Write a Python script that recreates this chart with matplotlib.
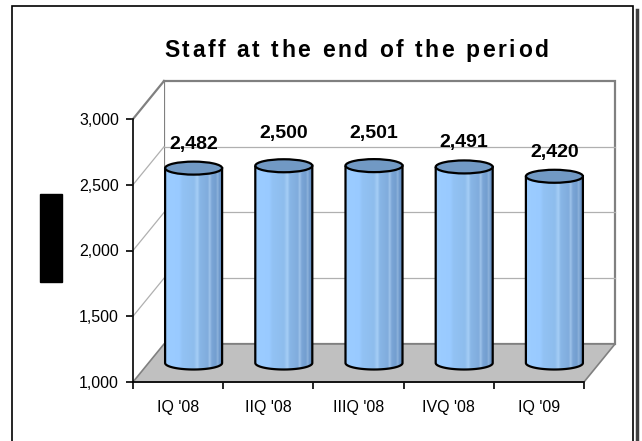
import numpy as np
import matplotlib.pyplot as plt
from matplotlib.patches import Rectangle, Polygon, Ellipse, PathPatch
from matplotlib.path import Path
from matplotlib.ticker import FuncFormatter
from matplotlib.colors import LinearSegmentedColormap
from matplotlib.font_manager import FontProperties

plt.rcParams['font.family'] = ['Liberation Sans', 'DejaVu Sans']

# data
quarters = ["IQ '08", "IIQ '08", "IIIQ '08", "IVQ '08", "IQ '09"]
staff = [2482, 2500, 2501, 2491, 2420]
y_ticks = [1000, 1500, 2000, 2500, 3000]
title = "Staff at the end of the period"

# small vertical nudges of the value labels (pixels), as in the original
label_nudge = [0, 8, 8, 0, 0]

W, H = 642, 441
fig = plt.figure(figsize=(W / 100, H / 100), dpi=100)
ax = fig.add_axes([133 / W, 59 / H, 451 / W, 263 / H])
n = len(quarters)
ymin, ymax = y_ticks[0], y_ticks[-1]
ax.set_xlim(0, n)
ax.set_ylim(ymin, ymax)
ax.patch.set_visible(False)

# depth of the 3d box: pixels -> data units
DX, DY = 31, 38
ox = DX / 451 * n
oy = DY / 263 * (ymax - ymin)

# back wall, side wall, floor
ax.add_patch(Rectangle((ox, ymin + oy), n, ymax - ymin, facecolor='white',
                       edgecolor='#808080', lw=1.6, zorder=1, clip_on=False))
ax.add_patch(Polygon([(0, ymin), (0, ymax), (ox, ymax + oy), (ox, ymin + oy)],
                     facecolor='white', edgecolor='none', zorder=1, clip_on=False))
for y in y_ticks[1:-1]:
    ax.plot([ox, n + ox], [y + oy, y + oy], color='#b0b0b0', lw=0.9, zorder=2, clip_on=False)
    ax.plot([0, ox], [y, y + oy], color='#b0b0b0', lw=0.9, zorder=2, clip_on=False)
ax.plot([0, ox], [ymax, ymax + oy], color='#808080', lw=1.6, zorder=2, clip_on=False)
ax.add_patch(Polygon([(0, ymin), (n, ymin), (n + ox, ymin + oy), (ox, ymin + oy)],
                     facecolor='#c0c0c0', edgecolor='#808080', lw=1.2, zorder=3, clip_on=False))

# cylinders
cyl_cmap = LinearSegmentedColormap.from_list('cyl', [
    (0.0, '#9ccdff'), (0.25, '#99caff'), (0.3, '#92c2f4'), (0.5, '#8ebded'),
    (0.56, '#a6cef6'), (0.6, '#88b6e6'), (0.74, '#80acdd'), (0.77, '#9fc4ea'),
    (0.81, '#7aa5d6'), (0.88, '#739ecf'), (0.91, '#90b5dd'), (0.94, '#6d98cb'),
    (1.0, '#6691c4')])
grad = np.linspace(0, 1, 256).reshape(1, -1)
w = 0.632
eh = 13 / 263 * (ymax - ymin)
t = np.linspace(np.pi, 2 * np.pi, 60)

for i, v in enumerate(staff):
    cx = i + 0.5 + ox / 2
    base = ymin + oy / 2
    top = v + oy / 2
    pts = [(cx - w / 2, top), (cx - w / 2, base)]
    pts += list(zip(cx + w / 2 * np.cos(t), base + eh / 2 * np.sin(t)))
    pts += [(cx + w / 2, top), (cx - w / 2, top)]
    body = PathPatch(Path(pts), facecolor='none', edgecolor='black', lw=1.6,
                     zorder=6, clip_on=False)
    ax.add_patch(body)
    im = ax.imshow(grad, extent=[cx - w / 2, cx + w / 2, base - eh / 2, top],
                   aspect='auto', cmap=cyl_cmap, interpolation='bilinear', zorder=5)
    im.set_clip_path(body)
    ax.add_patch(Ellipse((cx, top), w, eh, facecolor='#7199c4', edgecolor='black',
                         lw=1.6, zorder=7, clip_on=False))
    ax.annotate(f"{v:,}", xy=(cx, top), xytext=(0, (24 + label_nudge[i]) * 0.72),
                textcoords='offset points', ha='center', va='center',
                fontsize=14, fontweight='bold', zorder=8, annotation_clip=False)

ax.set_xlim(0, n)
ax.set_ylim(ymin, ymax)

# axes
for s in ['top', 'right']:
    ax.spines[s].set_visible(False)
for s in ['left', 'bottom']:
    ax.spines[s].set_linewidth(1.2)
    ax.spines[s].set_zorder(10)
ax.set_yticks(y_ticks)
ax.yaxis.set_major_formatter(FuncFormatter(lambda v, p: f"{v:,.0f}"))
ax.set_xticks(range(n + 1))
ax.set_xticklabels([])
ax.set_xticks([i + 0.5 for i in range(n)], minor=True)
ax.set_xticklabels(quarters, minor=True)
ax.tick_params(axis='both', which='major', direction='out', length=5, width=1.2,
               labelsize=11.5, pad=5)
ax.tick_params(axis='x', which='minor', length=0, labelsize=11.5, pad=13)

# title with wide letter spacing
renderer = fig.canvas.get_renderer()
fp = FontProperties(family=['Liberation Sans', 'DejaVu Sans'], weight='bold', size=16.5)
def text_w(s):
    return renderer.get_text_width_height_descent(s, fp, ismath=False)[0]
space_w = text_w("a a") - text_w("aa")
widths = [space_w if ch == ' ' else text_w(ch) for ch in title]
target = 384
gap = (target - sum(widths)) / (len(title) - 1)
x = 356 - target / 2
for ch, cw in zip(title, widths):
    fig.text(x / W, (H - 57) / H, ch, fontproperties=fp, ha='left', va='baseline')
    x += cw + gap

# redacted axis title block
fig.add_artist(Rectangle((40 / W, (H - 282) / H), 22 / W, 88 / H,
                         transform=fig.transFigure, color='black'))

# outer chart frame with shadow
fig.add_artist(Rectangle((12 / W, -0.02), (633 - 12) / W, (H - 6) / H + 0.02,
                         transform=fig.transFigure, fill=False, edgecolor='black', lw=1.2))
fig.add_artist(plt.Line2D([636.5 / W, 636.5 / W], [-0.02, (H - 10) / H],
                          transform=fig.transFigure, color='#404040', lw=2.5))

fig.savefig('out.png', dpi=100)
